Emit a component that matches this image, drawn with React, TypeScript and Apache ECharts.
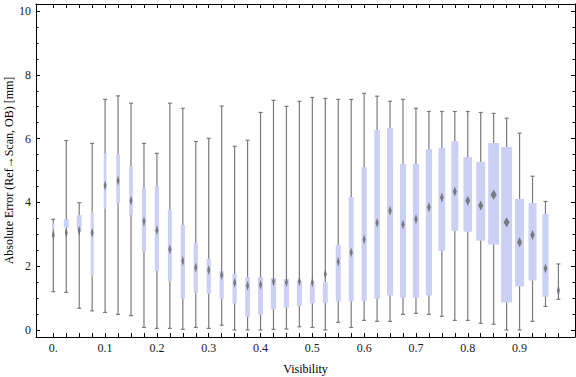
import React, { useEffect, useRef } from "react";
import * as echarts from "echarts";

// Box positions (Visibility)
const visibility = [
  0, 0.025, 0.05, 0.075, 0.1, 0.125, 0.15, 0.175, 0.2, 0.225,
  0.25, 0.275, 0.3, 0.325, 0.35, 0.375, 0.4, 0.425, 0.45, 0.475,
  0.5, 0.525, 0.55, 0.575, 0.6, 0.625, 0.65, 0.675, 0.7, 0.725,
  0.75, 0.775, 0.8, 0.825, 0.85, 0.875, 0.9, 0.925, 0.95, 0.975,
];
const whiskerLow = [
  1.2, 1.18, 0.68, 0.6, 0.55, 0.49, 0.45, 0.08, 0.05, 0.05,
  0.02, 0.08, 0.05, 0.15, 0.0, 0.0, 0.0, 0.02, 0.03, 0.1,
  0.08, 0.0, 0.24, 0.08, 0.3, 0.27, 0.27, 0.49, 0.52, 0.49,
  0.43, 0.3, 0.3, 0.21, 0.18, 0.0, 0.0, 0.27, 0.74, 0.96,
];
const quartile1 = [
  3.16, 3.21, 3.13, 1.67, 3.8, 3.98, 3.6, 2.46, 1.85, 1.52,
  0.98, 1.17, 1.14, 0.97, 0.83, 0.41, 0.48, 0.66, 0.7, 0.75,
  0.83, 0.85, 0.89, 0.9, 0.92, 0.98, 1.08, 1.01, 1.01, 1.08,
  2.48, 3.11, 3.08, 2.8, 2.68, 0.86, 1.36, 1.55, 1.04, 1.11,
];
const median = [
  2.98, 3.05, 3.11, 3.05, 4.53, 4.68, 4.05, 3.4, 3.13, 2.53,
  2.16, 1.96, 1.88, 1.72, 1.48, 1.39, 1.42, 1.52, 1.5, 1.53,
  1.49, 1.75, 2.14, 2.43, 2.84, 3.36, 3.74, 3.31, 3.47, 3.85,
  4.15, 4.34, 4.05, 3.9, 4.24, 3.38, 2.75, 2.98, 1.93, 1.24,
];
const quartile3 = [
  3.34, 3.47, 3.6, 3.71, 5.54, 5.52, 5.13, 4.45, 4.51, 3.76,
  3.29, 2.73, 2.23, 1.85, 1.76, 1.66, 1.66, 1.63, 1.6, 1.54,
  1.46, 1.5, 2.66, 4.17, 5.1, 6.27, 6.33, 5.2, 5.2, 5.67,
  5.71, 5.92, 5.42, 5.27, 5.86, 5.74, 4.11, 3.98, 3.64, 1.36,
];
const whiskerHigh = [
  3.47, 5.94, 3.99, 5.85, 7.23, 7.34, 7.11, 5.85, 5.54, 7.11,
  6.95, 5.91, 6.01, 7.02, 5.76, 5.95, 6.82, 7.2, 7.01, 7.17,
  7.29, 7.26, 7.23, 7.23, 7.42, 7.33, 7.17, 7.23, 6.95, 6.85,
  6.85, 6.85, 6.85, 6.82, 6.79, 6.64, 6.17, 4.82, 4.03, 2.07,
];
// relative box widths (1 = widest box)
const boxWeight = [
  0.21, 0.45, 0.45, 0.27, 0.25, 0.34, 0.34, 0.39, 0.39, 0.36,
  0.39, 0.39, 0.39, 0.39, 0.39, 0.43, 0.45, 0.48, 0.48, 0.45,
  0.45, 0.45, 0.45, 0.45, 0.48, 0.52, 0.55, 0.55, 0.57, 0.57,
  0.61, 0.64, 0.79, 0.82, 1.0, 1.0, 0.82, 0.73, 0.57, 0.21,
];

const xTickValues = [0, 0.1, 0.2, 0.3, 0.4, 0.5, 0.6, 0.7, 0.8, 0.9];
const xTickLabels = ["0.", "0.1", "0.2", "0.3", "0.4", "0.5", "0.6", "0.7", "0.8", "0.9"];
const yTickValues = [0, 2, 4, 6, 8, 10];
const yTickLabels = ["0", "2", "4", "6", "8", "10"];
const yMinorTicks = [
  0.5, 1, 1.5, 2.5, 3, 3.5, 4.5, 5, 5.5, 6.5, 7, 7.5, 8.5, 9, 9.5,
];
const xTitle = "Visibility";
const yTitle = "Absolute Error (Ref\u2192Scan, OB) [mm]";

const X_MIN = -0.0334;
const X_MAX = 1.007;
const Y_MIN = -0.22;
const Y_MAX = 10.22;
const MAX_BOX_W = 0.0212;

const FONT = "'Liberation Serif', 'DejaVu Serif', serif";
const AXIS_COLOR = "#000";

function labelFor(values: number[], labels: string[], v: number) {
  for (let i = 0; i < values.length; i++) {
    if (Math.abs(values[i] - v) < 1e-6) return labels[i];
  }
  return "";
}

export default function App() {
  const ref = useRef<HTMLDivElement>(null);

  useEffect(() => {
    if (!ref.current) return;
    const chart = echarts.init(ref.current, undefined, { renderer: "svg" });

    const data = visibility.map((x, i) => [
      x,
      whiskerLow[i],
      quartile1[i],
      median[i],
      quartile3[i],
      whiskerHigh[i],
      boxWeight[i],
    ]);

    const baseX = {
      type: "value" as const,
      min: X_MIN,
      max: X_MAX,
      splitLine: { show: false },
      axisLine: { show: true, onZero: false, lineStyle: { color: AXIS_COLOR, width: 1 } },
    };
    const baseY = {
      type: "value" as const,
      min: Y_MIN,
      max: Y_MAX,
      splitLine: { show: false },
    };

    chart.setOption({
      animation: false,
      grid: {
        left: 36,
        right: 1,
        top: 4,
        bottom: 40,
        containLabel: false,
        outerBoundsMode: "none",
      },
      graphic: [
        {
          type: "text",
          x: 9,
          y: 170.5,
          rotation: Math.PI / 2,
          style: {
            text: yTitle,
            fontFamily: FONT,
            fontSize: 12,
            fill: "#000",
            align: "center",
            verticalAlign: "middle",
          },
        },
      ],
      xAxis: [
        {
          ...baseX,
          position: "bottom",
          axisTick: {
            show: true,
            inside: true,
            length: 4,
            customValues: visibility,
            lineStyle: { color: AXIS_COLOR },
          },
          axisLabel: {
            show: true,
            customValues: xTickValues,
            formatter: (v: number) => labelFor(xTickValues, xTickLabels, v),
            fontFamily: FONT,
            fontSize: 12,
            color: "#1a1a1a",
            margin: 5,
          },
          name: xTitle,
          nameLocation: "middle",
          nameGap: 26,
          nameTextStyle: { fontFamily: FONT, fontSize: 12, color: "#000" },
        },
        {
          ...baseX,
          position: "top",
          axisTick: {
            show: true,
            inside: true,
            length: 4,
            customValues: visibility,
            lineStyle: { color: AXIS_COLOR },
          },
          axisLabel: { show: false },
        },
      ],
      yAxis: [
        {
          ...baseY,
          position: "left",
          axisLine: { show: true, onZero: false, lineStyle: { color: AXIS_COLOR, width: 1 } },
          axisTick: {
            show: true,
            inside: true,
            length: 4,
            customValues: yTickValues,
            lineStyle: { color: AXIS_COLOR },
          },
          axisLabel: {
            show: true,
            customValues: yTickValues,
            formatter: (v: number) => labelFor(yTickValues, yTickLabels, v),
            fontFamily: FONT,
            fontSize: 12,
            color: "#1a1a1a",
            margin: 5,
          },
        },
        {
          ...baseY,
          position: "left",
          offset: 0,
          axisLine: { show: false, onZero: false },
          axisTick: {
            show: true,
            inside: true,
            length: 2.5,
            customValues: yMinorTicks,
            lineStyle: { color: AXIS_COLOR },
          },
          axisLabel: { show: false },
        },
        {
          ...baseY,
          position: "right",
          axisLine: { show: true, onZero: false, lineStyle: { color: AXIS_COLOR, width: 1 } },
          axisTick: {
            show: true,
            inside: true,
            length: 4,
            customValues: yTickValues,
            lineStyle: { color: AXIS_COLOR },
          },
          axisLabel: { show: false },
        },
        {
          ...baseY,
          position: "right",
          offset: 0,
          axisLine: { show: false, onZero: false },
          axisTick: {
            show: true,
            inside: true,
            length: 2.5,
            customValues: yMinorTicks,
            lineStyle: { color: AXIS_COLOR },
          },
          axisLabel: { show: false },
        },
      ],
      series: [
        {
          type: "custom",
          xAxisIndex: 0,
          yAxisIndex: 0,
          data,
          encode: { x: 0, y: [1, 5] },
          renderItem: (_params: any, api: any) => {
            const x = api.value(0);
            const lo = api.coord([x, api.value(1)]);
            const q1 = api.coord([x, api.value(2)]);
            const md = api.coord([x, api.value(3)]);
            const q3 = api.coord([x, api.value(4)]);
            const hi = api.coord([x, api.value(5)]);
            const w = api.size([api.value(6) * MAX_BOX_W, 0])[0];
            const cx = lo[0];
            const cap = 2;
            const hw = Math.max(1.5, w * 0.28);
            const hh = 5;
            const stroke = { stroke: "#7a7a7a", lineWidth: 1.2 };
            return {
              type: "group",
              children: [
                { type: "line", shape: { x1: cx, y1: lo[1], x2: cx, y2: hi[1] }, style: stroke },
                { type: "line", shape: { x1: cx - cap, y1: lo[1], x2: cx + cap, y2: lo[1] }, style: stroke },
                { type: "line", shape: { x1: cx - cap, y1: hi[1], x2: cx + cap, y2: hi[1] }, style: stroke },
                {
                  type: "rect",
                  shape: { x: cx - w / 2, y: q3[1], width: w, height: q1[1] - q3[1] },
                  style: { fill: "#cbd1f5" },
                },
                {
                  type: "polygon",
                  shape: {
                    points: [
                      [cx, md[1] - hh],
                      [cx + hw, md[1]],
                      [cx, md[1] + hh],
                      [cx - hw, md[1]],
                    ],
                  },
                  style: { fill: "#707070", opacity: 0.9 },
                },
              ],
            };
          },
        },
      ],
    });

    return () => chart.dispose();
  }, []);

  return (
    <div
      ref={ref}
      style={{ position: "absolute", left: 0, top: 0, width: 576, height: 377, background: "#fff" }}
    />
  );
}
